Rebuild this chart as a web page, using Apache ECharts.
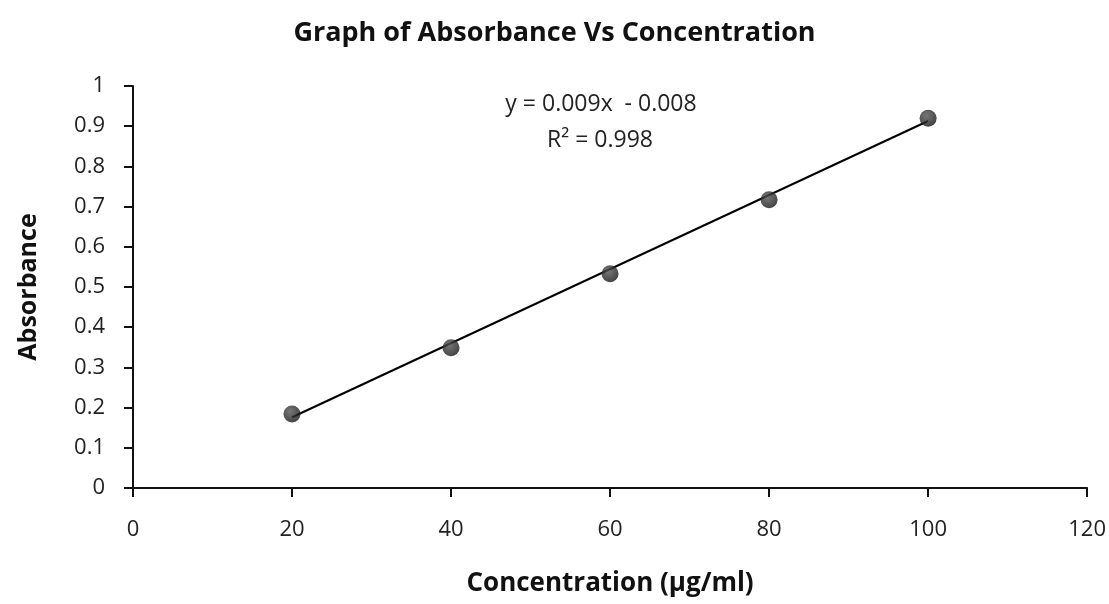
<!DOCTYPE html>
<html>
<head>
<meta charset="utf-8">
<script src="https://cdn.jsdelivr.net/npm/echarts@6/dist/echarts.min.js"></script>
<style>
    html, body { margin: 0; padding: 0; background: #fff; }
    #chart { width: 1109px; height: 604px; }
</style>
</head>
<body>
<div id="chart"></div>
<script>
// 浓度 (µg/ml) 与吸光度
var concentration = [20, 40, 60, 80, 100];
var absorbance = [0.184, 0.349, 0.533, 0.717, 0.92];
// 趋势线两端
var trendX = [20, 100];
var trendY = [0.176, 0.913];
var equationText = ["y = 0.009x  - 0.008", "R\u00b2 = 0.998"];

var font = "'Open Sans', 'Noto Sans', sans-serif";
var myChart = echarts.init(document.getElementById("chart"), null, { renderer: "canvas" });

var points = concentration.map(function (x, i) { return [x, absorbance[i]]; });
var trend = trendX.map(function (x, i) { return [x, trendY[i]]; });

var option = {
    animation: false,
    backgroundColor: "#fff",
    title: {
        text: "Graph of Absorbance Vs Concentration",
        left: "center",
        top: 15,
        textStyle: { fontFamily: font, fontSize: 27, fontWeight: "bold", color: "#111" }
    },
    graphic: [{
        type: "text",
        x: 601,
        y: 104,
        style: {
            text: equationText[0],
            align: "center",
            verticalAlign: "middle",
            fontFamily: font,
            fontSize: 23,
            fill: "#222"
        }
    }, {
        type: "text",
        x: 600,
        y: 140,
        style: {
            text: equationText[1],
            align: "center",
            verticalAlign: "middle",
            fontFamily: font,
            fontSize: 23,
            fill: "#222"
        }
    }],
    grid: { left: 133, right: 19, top: 86, bottom: 116 },
    xAxis: {
        type: "value",
        min: 0,
        max: 120,
        interval: 20,
        name: "Concentration (\u00b5g/ml)",
        nameLocation: "middle",
        nameGap: 83,
        nameTextStyle: { fontFamily: font, fontSize: 26, fontWeight: "bold", color: "#111" },
        axisLine: { lineStyle: { color: "#111", width: 2 } },
        axisTick: { show: true, length: 9, lineStyle: { color: "#111", width: 2 } },
        axisLabel: { fontFamily: font, fontSize: 22, color: "#222", margin: 31 },
        splitLine: { show: false }
    },
    yAxis: {
        type: "value",
        min: 0,
        max: 1,
        interval: 0.1,
        name: "Absorbance",
        nameLocation: "middle",
        nameGap: 92,
        nameTextStyle: { fontFamily: font, fontSize: 25, fontWeight: "bold", color: "#111" },
        axisLine: { show: true, lineStyle: { color: "#111", width: 2 } },
        axisTick: { show: true, length: 9, lineStyle: { color: "#111", width: 2 } },
        axisLabel: { fontFamily: font, fontSize: 22, color: "#222", margin: 28 },
        splitLine: { show: false }
    },
    series: [{
        name: "trend",
        type: "line",
        data: trend,
        symbol: "none",
        lineStyle: { color: "#000", width: 2 },
        z: 2
    }, {
        name: "Absorbance",
        type: "scatter",
        data: points,
        symbol: "circle",
        symbolSize: 17,
        itemStyle: {
            color: new echarts.graphic.RadialGradient(0.4, 0.35, 0.7, [
                { offset: 0, color: "#555" },
                { offset: 1, color: "#111" }
            ])
        },
        z: 3
    }]
};
myChart.setOption(option);
</script>
</body>
</html>
